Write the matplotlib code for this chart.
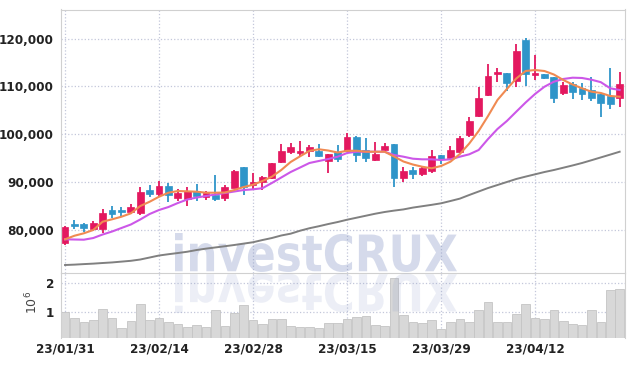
import numpy as np
import pandas as pd
import matplotlib
matplotlib.use("Agg")
import matplotlib.pyplot as plt
import matplotlib.transforms as mtransforms
from matplotlib import font_manager
from matplotlib.textpath import TextPath
from matplotlib.patches import PathPatch
from matplotlib.font_manager import FontProperties

# trading days 23/01/31 .. 23/04/25 (Mar 1 is a holiday)
dates = pd.bdate_range("2023-01-31", "2023-04-25", freq="C", holidays=["2023-03-01"])

opens = [77150, 81250, 81260, 80200, 80210, 84120, 84120, 83700, 83560, 88310,
         87540, 89150, 86610, 86480, 88160, 86820, 87270, 86610, 88700, 93130,
         89360, 90050, 90890, 94110, 96210, 96000, 96480, 96540, 94390, 96270,
         96540, 99470, 96690, 94600, 96690, 97950, 90890, 92500, 91730, 92350,
         95640, 95080, 96330, 99830, 103810, 108300, 112580, 112880, 111200, 119720,
         112460, 112600, 112040, 108560, 110450, 109730, 109250, 108350, 108000, 107640]
closes = [80500, 80850, 80420, 81400, 83500, 83350, 83640, 84750, 87890, 87480,
          89150, 87270, 87660, 88010, 87110, 87660, 86430, 88850, 92290, 89000,
          89930, 90970, 93900, 96540, 97380, 96540, 97380, 95430, 95850, 94870,
          99470, 95640, 95080, 95850, 97590, 90890, 92290, 91730, 92980, 95430,
          94740, 96690, 99140, 102760, 107520, 112190, 112930, 110780, 117420, 112540,
          112750, 111830, 107640, 110300, 108900, 108350, 107640, 106470, 106260, 110510]
highs = [80770, 81970, 81470, 81880, 84400, 85030, 84820, 85320, 89000, 89300,
         90200, 89720, 88580, 89000, 89630, 88160, 91450, 89270, 92500, 93130,
         91940, 91240, 94030, 97950, 98090, 98510, 97670, 97950, 95850, 97670,
         100190, 99620, 99140, 98430, 98090, 97950, 93190, 93190, 93340, 96690,
         95640, 97590, 99680, 103660, 109940, 114770, 113920, 112880, 118820, 120080,
         116500, 112600, 112040, 110990, 110990, 110660, 112040, 108350, 113800, 112960]
lows = [76800, 80200, 79580, 79730, 79250, 82390, 82930, 83290, 83080, 86780,
        87120, 85860, 85920, 84870, 86070, 86280, 86070, 86070, 88670, 87270,
        88460, 88310, 90620, 93900, 95850, 95290, 95160, 95160, 91810, 94240,
        96330, 94110, 94240, 94450, 96540, 88880, 89930, 90620, 91240, 91940,
        93760, 94600, 95990, 99470, 103540, 107950, 110870, 109040, 109820, 110090,
        111450, 111490, 106590, 108210, 107370, 107160, 106950, 103540, 105270, 105630]

ma5 = [77990, 78740, 79250, 79940, 81680, 82180, 82720, 83430, 84960, 85860,
       86910, 87750, 88100, 88040, 87960, 87750, 87750, 87790, 88310, 88940,
       89420, 90200, 91100, 92500, 94180, 95370, 96520, 96840, 96580, 96170,
       96520, 96540, 96330, 96330, 96330, 95330, 94280, 93650, 93190, 92860,
       93340, 94240, 95850, 98050, 100670, 103810, 107160, 109460, 111660, 113230,
       113440, 113230, 112500, 111350, 110400, 109610, 108900, 108630, 108000, 107850]
ma20 = [77990, 77950, 77910, 78260, 79000, 79620, 80360, 81090, 82140, 83290,
        84130, 84750, 85590, 86320, 86740, 87060, 87370, 87690, 88000, 88310,
        88460, 88690, 89780, 90930, 92080, 93020, 93970, 94390, 94800, 95290,
        96060, 96330, 96330, 96330, 96330, 95640, 95290, 94870, 94740, 94740,
        94600, 94740, 95290, 95790, 96690, 98990, 101090, 102760, 104710, 106640,
        108420, 109940, 110990, 111560, 111830, 111770, 111410, 110890, 109610, 109250]
ma120 = [72610, 72690, 72800, 72900, 73030, 73150, 73320, 73490, 73760, 74180,
         74600, 74870, 75120, 75390, 75750, 76040, 76290, 76540, 76800, 77090,
         77380, 77840, 78260, 78790, 79170, 79790, 80310, 80730, 81190, 81610,
         82090, 82510, 82930, 83350, 83710, 84000, 84250, 84630, 84920, 85210,
         85530, 86010, 86510, 87270, 88000, 88730, 89360, 89990, 90620, 91120,
         91600, 92080, 92500, 92980, 93460, 93970, 94550, 95140, 95730, 96330]

volume = [980000, 770000, 630000, 700000, 1080000, 770000, 430000, 670000, 1260000, 700000,
          770000, 630000, 570000, 460000, 530000, 460000, 1050000, 500000, 940000, 1220000,
          700000, 570000, 740000, 740000, 500000, 460000, 460000, 430000, 600000, 600000,
          740000, 810000, 840000, 530000, 500000, 2150000, 880000, 630000, 600000, 700000,
          390000, 630000, 740000, 630000, 1050000, 1320000, 630000, 630000, 910000, 1260000,
          770000, 740000, 1050000, 670000, 570000, 530000, 1050000, 630000, 1740000, 1770000]

UP = "#e3185f"
DOWN = "#2f95c9"
W, H = 634, 366


def pick_label_font():
    # a narrow face if one is installed, otherwise plain Liberation Sans a bit smaller
    for fam, stretch, size in [("Liberation Sans Narrow", "normal", 10.3),
                               ("DejaVu Sans", "condensed", 9.6)]:
        fp = FontProperties(family=fam, weight="bold", stretch=stretch)
        try:
            path = font_manager.findfont(fp, fallback_to_default=False)
        except Exception:
            continue
        if "Narrow" in path or "Condensed" in path:
            return dict(family=fam, weight="bold", stretch=stretch, size=size)
    return dict(family="Liberation Sans", weight="bold", size=8.6)


label_font = pick_label_font()


def add_watermark(ax, x0, x1, ytop, ybot, flip, alpha, zorder):
    # box given in image pixels (y from the top)
    tp = TextPath((0, 0), "investCRUX", size=1,
                  prop=FontProperties(family="DejaVu Sans", weight="bold"))
    ext = tp.get_extents()
    sx = (x1 - x0) / ext.width / W
    sy = (ybot - ytop) / ext.height / H
    if flip:
        tr = mtransforms.Affine2D().translate(-ext.x0, -ext.y0).scale(sx, -sy).translate(x0 / W, 1 - ytop / H)
    else:
        tr = mtransforms.Affine2D().translate(-ext.x0, -ext.y0).scale(sx, sy).translate(x0 / W, 1 - ybot / H)
    patch = PathPatch(tp, transform=tr + ax.figure.transFigure, facecolor="#8c9bc8",
                      edgecolor="none", alpha=alpha, zorder=zorder, clip_on=False)
    ax.add_artist(patch)


fig = plt.figure(figsize=(6.34, 3.66), dpi=100)
ax = fig.add_axes([61 / W, 1 - 272.7 / H, 564 / W, 263.2 / H])
axv = fig.add_axes([61 / W, 1 - 337.5 / H, 564 / W, 64.8 / H], sharex=ax)

x = np.arange(len(dates))
o = np.array(opens)
c = np.array(closes)
colors = [UP if cc >= oo else DOWN for oo, cc in zip(o, c)]

ax.vlines(x, lows, highs, color=colors, linewidth=1.3, zorder=3)
body = np.maximum(np.abs(c - o), 150)
ax.bar(x, body, bottom=np.minimum(o, c), width=0.72, color=colors,
       edgecolor=colors, linewidth=0.5, zorder=4)

ax.plot(x, ma120, color="#808080", linewidth=1.4, zorder=5)
ax.plot(x, ma20, color="#cc57e8", linewidth=1.5, zorder=5)
ax.plot(x, ma5, color="#f08a52", linewidth=1.5, zorder=5)

add_watermark(ax, 175, 457, 233, 272, False, 0.36, 2)

ax.set_xlim(-0.43, 59.57)
ax.set_ylim(71000, 126110)
yt = [80000, 90000, 100000, 110000, 120000]
ax.set_yticks(yt)
ax.set_yticklabels([f"{v:,}" for v in yt], **label_font, color="#222222")

axv.bar(x, volume, width=0.92, color="#d8d8d8", edgecolor="#c4c4c4", linewidth=0.6, zorder=2)
add_watermark(axv, 175, 457, 273.5, 313, True, 0.16, 3)
axv.set_ylim(110000, 2345000)
axv.set_yticks([1000000, 2000000])
axv.set_yticklabels(["1", "2"], **label_font, color="#222222")
fig.text(32 / W, 1 - 302 / H, r"$10^6$", rotation=90, ha="center", va="center",
         fontsize=9, color="#444444")

ticks = list(range(0, len(dates), 10))
axv.set_xticks(ticks)
axv.set_xticklabels([dates[i].strftime("%y/%m/%d") for i in ticks], **label_font, color="#222222")
plt.setp(ax.get_xticklabels(), visible=False)

for a in (ax, axv):
    a.set_facecolor("none")
    a.grid(True, linestyle=":", color="#c3c7da", linewidth=0.9, zorder=0)
    a.set_axisbelow(True)
    a.tick_params(length=0, pad=5)
    for s in a.spines.values():
        s.set_color("#d0d0d0")
axv.tick_params(axis="x", pad=3.5)
axv.spines["bottom"].set_visible(False)
axv.spines["top"].set_visible(False)

fig.savefig("out.png", dpi=100, facecolor="white")
